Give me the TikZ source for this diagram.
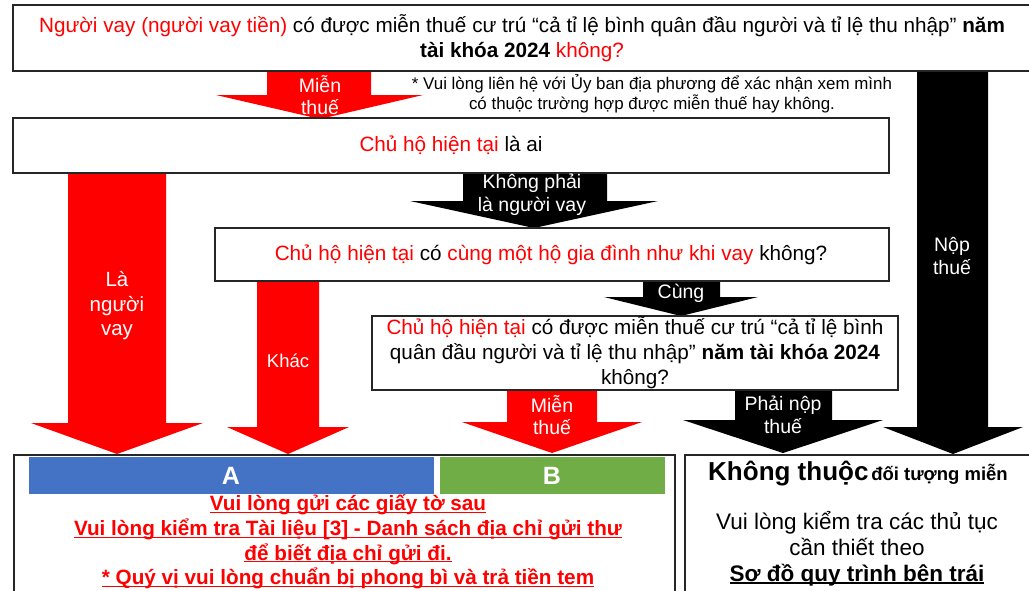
\documentclass[tikz,border=0pt]{standalone}
\usepackage{fontspec}
\setmainfont{Liberation Sans}
\definecolor{rd}{HTML}{FF0000}
\definecolor{blA}{HTML}{4472C4}
\definecolor{grB}{HTML}{70AD47}
\newcommand\fs[2]{\fontsize{#1}{#2}\selectfont}
\newcommand\ulx[1]{\setbox0\hbox{#1}\rlap{\rule[-2.4pt]{\wd0}{1.3pt}}\box0}
% colour, shaft left, shaft right, top, head start, head left, head right, tip, centre x
\newcommand\blkarrow[9]{\fill[#1] (#2,#4) -- (#3,#4) -- (#3,#5) -- (#7,#5) -- (#9,#8) -- (#6,#5) -- (#2,#5) -- cycle;}
\begin{document}
\begin{tikzpicture}[x=1pt,y=-1pt,
  frame/.style={draw=black!85,line width=1.8pt},
  qtxt/.style={align=center,inner sep=0pt,font=\fs{20.7}{25}},
  alab/.style={align=center,inner sep=0pt,text=white,font=\fs{19.5}{22.5}},
  rline/.style={align=center,inner sep=0pt,text=rd,font=\fs{20.7}{24.6}\bfseries}]
\useasboundingbox (0,0) rectangle (1029,590);
\fill[white] (0,0) rectangle (1029,590);
% block arrows
\blkarrow{rd}{267}{371}{71}{95}{216}{423}{119}{320}
\blkarrow{rd}{68}{166}{173}{423}{31}{203}{454}{117}
\blkarrow{rd}{257}{319}{281}{427}{227}{349}{454}{288}
\blkarrow{black}{463}{607}{173}{201}{410}{658}{228}{534}
\blkarrow{black}{643}{720}{280}{297}{604}{758}{316}{681}
\blkarrow{rd}{507}{597}{390}{422}{462}{642}{453}{552}
\blkarrow{black}{735}{832}{390}{420}{683}{883}{453}{783}
\blkarrow{black}{917}{988}{71}{427}{883}{1023}{454}{953}
% boxes
\draw[frame] (13,5) rectangle (1040,71);
\draw[frame] (13,118) rectangle (889,173);
\draw[frame] (215,228) rectangle (889,281);
\draw[frame] (372,316) rectangle (898,390);
\draw[frame] (14,455) rectangle (675,600);
\draw[frame] (685,455) rectangle (1040,600);
% box texts
\node[qtxt] (q1) at (522,38.5) {{\color{rd}Người vay (người vay tiền)} có được miễn thuế cư trú “cả tỉ lệ bình quân đầu người và tỉ lệ thu nhập” \textbf{năm}\\\textbf{tài khóa 2024} {\color{rd}không?}};
\node[align=center,inner sep=0pt,font=\fs{16.9}{20}] (note) at (652,94) {* Vui lòng liên hệ với Ủy ban địa phương để xác nhận xem mình\\có thuộc trường hợp được miễn thuế hay không.};
\node[qtxt] (q2) at (451,145.5) {{\color{rd}Chủ hộ hiện tại} là ai};
\node[qtxt] (q3) at (551,255) {{\color{rd}Chủ hộ hiện tại} có {\color{rd}cùng một hộ gia đình như khi vay} không?};
\node[qtxt] (q4) at (635,353) {{\color{rd}Chủ hộ hiện tại} có được miễn thuế cư trú “cả tỉ lệ bình\\quân đầu người và tỉ lệ thu nhập” \textbf{năm tài khóa 2024}\\không?};
% arrow labels
\node[alab] (l1) at (320,95) {Miễn\\thuế};
\node[alab,font=\fs{20.5}{24.5}] (l2) at (117,306) {Là\\người\\vay};
\node[alab,font=\fs{18.5}{22}] (l3) at (288,361) {Khác};
\node[alab] (l4) at (532,195) {Không phải\\là người vay};
\node[alab] (l5) at (681,293) {Cùng};
\node[alab] (l6) at (552,415) {Miễn\\thuế};
\node[alab] (l7) at (783,415) {Phải nộp\\thuế};
\node[alab] (l8) at (952,256) {Nộp\\thuế};
% result A/B
\fill[blA] (29,457) rectangle (434,494);
\fill[grB] (440,457) rectangle (665,494);
\node[inner sep=0pt,text=white,font=\fs{25}{28}\bfseries] (ta) at (231,476) {A};
\node[inner sep=0pt,text=white,font=\fs{25}{28}\bfseries] (tb) at (552,476) {B};
\node[rline] (r1) at (348,542) {\ulx{Vui lòng gửi các giấy tờ sau}\\\ulx{Vui lòng kiểm tra Tài liệu [3] - Danh sách địa chỉ gửi thư}\\\ulx{để biết địa chỉ gửi đi.}\\\ulx{* Quý vị vui lòng chuẩn bị phong bì và trả tiền tem}};
% result right
\node[inner sep=0pt,font=\bfseries] (k1) at (858,474) {{\fs{26}{29}Không thuộc} {\fs{18.5}{21}đối tượng miễn}};
\node[align=center,inner sep=0pt,font=\fs{22.5}{26}] (k2) at (857,548.5) {Vui lòng kiểm tra các thủ tục\\cần thiết theo\\\textbf{\ulx{Sơ đồ quy trình bên trái}}};
\end{tikzpicture}
\end{document}
